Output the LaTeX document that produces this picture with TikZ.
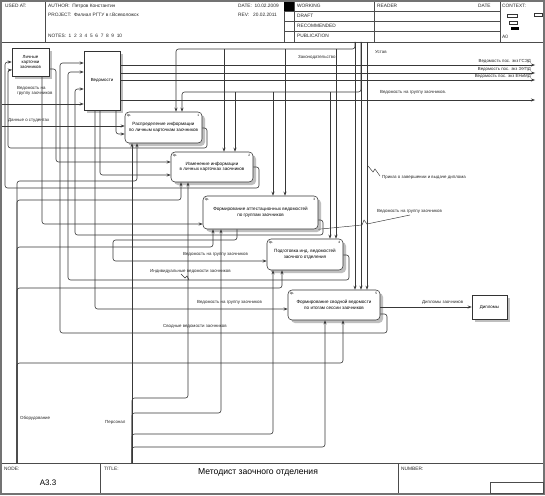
\documentclass[tikz,border=0pt]{standalone}
\usepackage{fontspec}
\setmainfont{Liberation Sans}
\usetikzlibrary{arrows.meta}
\begin{document}
\begin{tikzpicture}[x=1pt,y=-1pt,
  ln/.style={draw=black!78,line width=0.6pt,rounded corners=2.5pt},
  ar/.style={ln,-{Stealth[length=4pt,width=3pt]}},
  lbl/.style={font=\fontsize{4.4}{5}\selectfont,inner sep=0pt,anchor=west,text=black!85},
  hdr/.style={font=\fontsize{4.8}{5.5}\selectfont,inner sep=0pt,anchor=west,text=black!85},
  act/.style={draw=black!80,line width=0.55pt,rounded corners=4pt,fill=white,align=center,font=\fontsize{4.6}{5.6}\selectfont,inner sep=1pt},
  sq/.style={draw=black!80,line width=0.55pt,fill=white,align=center,font=\fontsize{4.4}{5.4}\selectfont,inner sep=1pt},
  shd/.style={fill=black!25},
  tag/.style={font=\fontsize{3.2}{4}\selectfont,inner sep=0pt},
  frm/.style={draw=black!70,line width=0.6pt}]
\useasboundingbox (0,0) rectangle (545,495);
\fill[white] (0,0) rectangle (545,495);
% ---------- frame ----------
\draw[draw=black!55,line width=1.6pt] (1,1) rectangle (544,494);
\draw[frm] (2,42) -- (543,42);
\draw[frm] (2,463) -- (543,463);
% header
\draw[frm] (45,2) -- (45,42);
\draw[frm] (284,2) -- (284,42);
\draw[frm] (294,2) -- (294,42);
\draw[frm] (374,2) -- (374,42);
\draw[frm] (500,2) -- (500,42);
\foreach \yy in {11,21,31} \draw[frm] (284,\yy) -- (500,\yy);
\fill[black] (284,2) rectangle (294,11);
\node[hdr] (h1) at (5,6) {USED AT:};
\node[hdr] (h2) at (48,6) {AUTHOR:\ \ Петров Константин};
\node[hdr] (h3) at (48,15) {PROJECT:\ \ Филиал РГТУ в г.Всеволожск};
\node[hdr] (h4) at (48,36) {NOTES:\ \ 1\ \ 2\ \ 3\ \ 4\ \ 5\ \ 6\ \ 7\ \ 8\ \ 9\ \ 10};
\node[hdr] (h5) at (238,6) {DATE:\ \ 10.02.2009};
\node[hdr] (h6) at (238,15) {REV:\ \ \ 20.02.2011};
\node[hdr] (h7) at (297,6) {WORKING};
\node[hdr] (h8) at (297,16) {DRAFT};
\node[hdr] (h9) at (297,26) {RECOMMENDED};
\node[hdr] (h10) at (297,36) {PUBLICATION};
\node[hdr] (h11) at (377,6) {READER};
\node[hdr] (h12) at (478,6) {DATE};
\node[hdr] (h13) at (502,6) {CONTEXT:};
\node[hdr] (h14) at (502,37) {A0};
\draw[black!80,line width=0.4pt] (507,14) rectangle (517,17);
\draw[black!80,line width=0.4pt] (534,13) rectangle (542,16);
\draw[black!80,line width=0.4pt] (509,21) rectangle (517,24);
\fill[black] (511,27) rectangle (519,30);
% footer
\draw[frm] (100,463) -- (100,493);
\draw[frm] (398,463) -- (398,493);
\draw[frm] (490,482) rectangle (543,493);
\node[hdr] (f1) at (4,469) {NODE:};
\node[font=\fontsize{8}{9}\selectfont,inner sep=0pt] (f2) at (48,483) {A3.3};
\node[hdr] (f3) at (104,469) {TITLE:};
\node[font=\fontsize{8.6}{10}\selectfont,inner sep=0pt] (f4) at (258,472) {Методист заочного отделения};
\node[hdr] (f5) at (401,469) {NUMBER:};
% ---------- boxes ----------
\fill[shd] (15,51) rectangle (52,79);
\node[sq,minimum width=37pt,minimum height=28pt] (b0) at (30.5,62) {Личные\\карточки\\заочников};
\fill[shd] (87,54) rectangle (123,113);
\node[sq,minimum width=36pt,minimum height=59pt] (bv) at (102,80.5) {Ведомости};
\fill[shd,rounded corners=4pt] (128,115) rectangle (205,146);
\node[act,minimum width=77pt,minimum height=31pt] (b1) at (163.5,127.5) {Распределение информации\\по личным карточкам заочников};
\fill[shd,rounded corners=4pt] (174,155) rectangle (256,185);
\node[act,minimum width=82pt,minimum height=30pt] (b2) at (212,167) {Изменение информации\\в личных карточках заочников};
\fill[shd,rounded corners=4pt] (206,199) rectangle (321,232);
\node[act,minimum width=115pt,minimum height=33pt] (b3) at (260.5,212.5) {Формирование аттестационных ведомостей\\по группам заочников};
\fill[shd,rounded corners=4pt] (270,242) rectangle (346,273);
\node[act,minimum width=76pt,minimum height=31pt] (b4) at (305,254.5) {Подготовка инд. ведомостей\\заочного отделения};
\fill[shd,rounded corners=4pt] (291,293) rectangle (383,323);
\node[act,minimum width=92pt,minimum height=30pt] (b5) at (334,305) {Формирование сводной ведомости\\по итогам сессии заочников};
\fill[shd] (475,298) rectangle (510,322);
\node[sq,minimum width=35pt,minimum height=24pt] (bd) at (489.5,307) {Дипломы};
\foreach \b/\n in {b1/1,b2/2,b3/3,b4/4,b5/5}{
  \node[tag,anchor=north west] (t\b) at ([shift={(2,2)}]\b.north west) {0р.};
  \node[tag,anchor=north east] (n\b) at ([shift={(-3,2)}]\b.north east) {\n};
}
% ---------- free ends ----------
\coordinate (zak) at (355,42);
\coordinate (ust) at (361,42);
\coordinate (pri) at (367,42);
\coordinate (o1) at (535,65);
\coordinate (o2) at (535,73);
\coordinate (o3) at (535,80);
\coordinate (o4) at (535,100);
\coordinate (i1) at (2,104);
\coordinate (i2) at (2,126);
\coordinate (ob) at (17,463);
\coordinate (pe) at (132,463);
% ---------- controls ----------
\draw[ar] (zak) -- (zak |- b5.north);
\draw[ar] (zak) |- (176,49) -- (176,0 |- b1.north);
\draw[ar] (224,49) -- (224,0 |- b2.north);
\draw[ar] (285,49) -- (285,0 |- b3.north);
\draw[ar] (336,49) -- (336,0 |- b4.north);
\draw[ar] (ust) -- (ust |- b5.north);
\draw[ar] (ust) |- (182,92) -- (182,0 |- b1.north);
\draw[ar] (235,92) -- (235,0 |- b2.north);
\draw[ar] (273,92) -- (273,0 |- b3.north);
\draw[ar] (330,92) -- (330,0 |- b4.north);
\draw[ar] (pri) -- (pri |- b5.north);
% ---------- outputs of Ведомости ----------
\draw[ar] (bv.east |- o1) -- (o1);
\draw[ar] (bv.east |- o2) -- (o2);
\draw[ar] (bv.east |- o3) -- (o3);
\draw[ar] (bv.east |- o4) -- (o4);
% ---------- inputs ----------
\draw[ar] (i1) -- (bv.west |- i1);
\draw[ar] (i2) -- (b1.west |- i2);
\draw[ar] (b0.east |- 0,69) -| (56,162) -- (b2.west |- 0,162);
\draw[ar] (42,0 |- b0.south) |- (b3.west |- 0,224);
\draw[ar] (116,0 |- bv.south) |- (b1.west |- 0,134);
\draw[ar] (100,0 |- bv.south) |- (b2.west |- 0,175);
\draw[ar] (95,0 |- bv.south) |- (b5.west |- 0,309);
\draw[ar] (237,0 |- b3.south) |- (113,240) |- (b4.west |- 0,261);
% ---------- feedback outputs ----------
\draw[ar] (b1.east |- 0,128) -| (207,148) -| (8,70) -- (b0.west |- 0,70);
\draw[ar] (b2.east |- 0,167) -| (259,188) -| (5,62) -- (b0.west |- 0,62);
\draw[ar] (b3.east |- 0,220) -| (323,235) -| (75,89) -- (bv.west |- 0,89);
\draw[ar] (b4.east |- 0,255) -| (349,280) -| (68,72) -- (bv.west |- 0,72);
\draw[ar] (b5.east |- 0,314) -| (387,333) -| (60,63) -- (bv.west |- 0,63);
\draw[ar] (b5.east |- 0,307) -- (bd.west |- 0,307);
% ---------- mechanisms ----------
\draw[ar] (ob) |- (343,363) -- (343,0 |- b5.south);
\draw[ar] (ob) |- (137,181) -- (137,0 |- b1.south);
\draw[ar] (ob) |- (181,200) -- (181,0 |- b2.south);
\draw[ar] (ob) |- (213,247) -- (213,0 |- b3.south);
\draw[ar] (ob) |- (282,288) -- (282,0 |- b4.south);
\draw[ar] (pe) -- (132,0 |- b1.south);
\draw[ar] (pe) |- (188,398) -- (188,0 |- b2.south);
\draw[ar] (pe) |- (221,413) -- (221,0 |- b3.south);
\draw[ar] (pe) |- (273,434) -- (273,0 |- b4.south);
\draw[ar] (pe) |- (325,447) -- (325,0 |- b5.south);
% ---------- squiggles ----------
\draw[black!80,line width=0.45pt] (b3.south east) -- (362,225) -- (364,220) -- (367,224) -- (410,215);
\draw[black!80,line width=0.45pt] (368,166) -- (373,172) -- (375,169) -- (380,176);
\draw[black!80,line width=0.45pt] (181,274) -- (185,278) -- (187,276) -- (189,280);
% ---------- labels ----------
\node[lbl] (l1) at (298,57) {Законодательство};
\node[lbl] (l2) at (375,52) {Устав};
\node[lbl] (l3) at (382,177) {Приказ о завершении и выдаче диплома};
\node[lbl] (l4) at (377,211) {Ведомость на группу заочников};
\node[lbl] (l5) at (380,92) {Ведомость на группу заочников.};
\node[lbl,anchor=east] (l6) at (531,61) {Ведомость пос. экз ГСЭД};
\node[lbl,anchor=east] (l7) at (531,69) {Ведомость пос. экз ЭУПД};
\node[lbl,anchor=east] (l8) at (531,76) {Ведомость пос. экз ЕНиМД};
\node[lbl,anchor=north west,align=left] (l9) at (17,86) {Ведомость на\\группу заочников};
\node[lbl] (l10) at (8,120) {Данные о студентах};
\node[lbl] (l11) at (183,254) {Ведомость на группу заочников};
\node[lbl] (l12) at (150,271) {Индивидуальные ведомости заочников};
\node[lbl] (l13) at (197,302) {Ведомость на группу заочников};
\node[lbl] (l14) at (163,326) {Сводные ведомости заочников};
\node[lbl] (l15) at (422,302) {Дипломы заочников};
\node[lbl] (l16) at (20,418) {Оборудование};
\node[lbl] (l17) at (105,422) {Персонал};
\end{tikzpicture}
\end{document}
